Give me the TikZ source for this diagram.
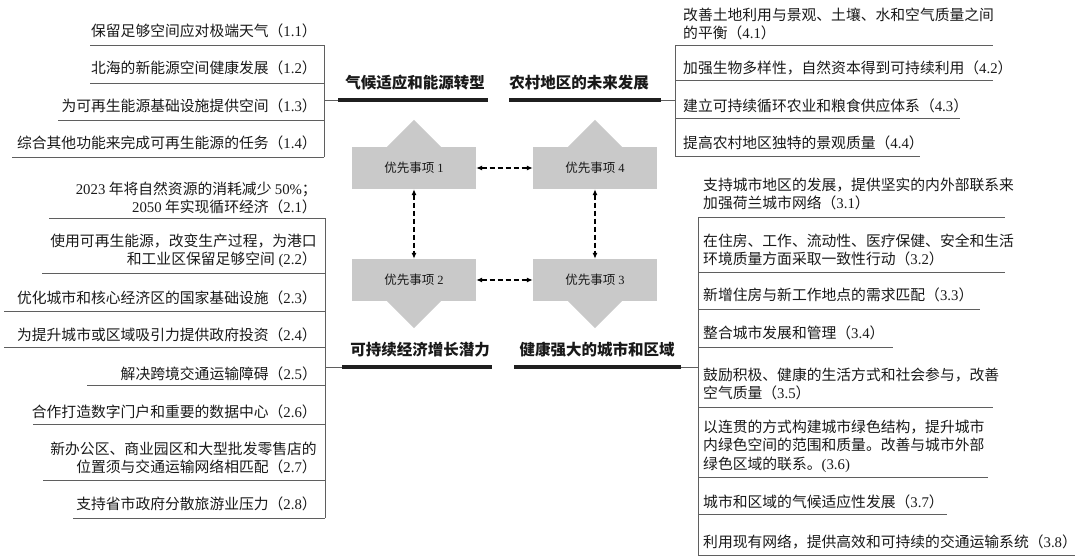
\documentclass[tikz,border=0pt]{standalone}
\usepackage{fontspec}
\setmainfont{Liberation Serif}
\newfontfamily\cjk{Noto Sans CJK SC}
\newfontfamily\latin{Liberation Serif}
\usetikzlibrary{arrows.meta,positioning}
\newcommand{\nr}[1]{{\latin #1}}
\definecolor{boxgray}{RGB}{201,201,201}
\definecolor{txtgray}{RGB}{25,25,25}
\definecolor{rulegray}{RGB}{95,95,95}
\tikzset{
  itemL/.style={anchor=east,align=right,inner sep=0pt,text=txtgray,
    font=\cjk\fontsize{14.8}{18.5}\selectfont},
  itemR/.style={anchor=west,align=left,inner sep=0pt,text=txtgray,
    font=\cjk\fontsize{14.8}{18.5}\selectfont},
  head/.style={inner sep=0pt,text=black!90,font=\cjk\bfseries\fontsize{15.5}{18}\selectfont},
  prio/.style={fill=boxgray,minimum width=124pt,minimum height=42pt,inner sep=0pt,
    text=txtgray,font=\cjk\fontsize{12.5}{15}\selectfont},
  rule/.style={draw=rulegray,line width=0.9pt},
  bar/.style={draw=black!88,line width=3.2pt},
  link/.style={dash pattern=on 5pt off 3pt,line width=1.1pt,
    {Latex[length=6pt,width=5pt]}-{Latex[length=6pt,width=5pt]}}
}
\begin{document}
\begin{tikzpicture}[x=1pt,y=-1pt]
\useasboundingbox (0,0) rectangle (1080,560);

% priorities
\node[prio] (p1) at (414,168) {优先事项 \nr{1}};
\node[prio] (p4) at (595,168) {优先事项 \nr{4}};
\node[prio] (p2) at (414,280) {优先事项 \nr{2}};
\node[prio] (p3) at (595,280) {优先事项 \nr{3}};
\fill[boxgray] ([xshift=-27pt]p1.north) -- ([xshift=27pt]p1.north) -- ([yshift=27pt]p1.north) -- cycle;
\fill[boxgray] ([xshift=-27pt]p4.north) -- ([xshift=27pt]p4.north) -- ([yshift=27pt]p4.north) -- cycle;
\fill[boxgray] ([xshift=-27pt]p2.south) -- ([xshift=27pt]p2.south) -- ([yshift=-27pt]p2.south) -- cycle;
\fill[boxgray] ([xshift=-27pt]p3.south) -- ([xshift=27pt]p3.south) -- ([yshift=-27pt]p3.south) -- cycle;
\draw[link] (p1) -- (p4);
\draw[link] (p2) -- (p3);
\draw[link] (p1) -- (p2);
\draw[link] (p4) -- (p3);

% headings
\node[head] (h1) at (415,83) {气候适应和能源转型};
\node[head] (h4) at (579,83) {农村地区的未来发展};
\node[head] (h2) at (420,350) {可持续经济增长潜力};
\node[head] (h3) at (597,350) {健康强大的城市和区域};
\coordinate (b1) at (338,100);
\coordinate (b4) at (661,100);
\coordinate (b2) at (342,367);
\coordinate (b3) at (681,367);
\draw[bar] (b1) -- ++(150,0);
\draw[bar] (b4) -- ++(-152,0);
\draw[bar] (b2) -- ++(150,0);
\draw[bar] (b3) -- ++(-167,0);

% trunks
\coordinate (t1) at (324,100);
\coordinate (t4) at (675,100);
\coordinate (t2) at (325,367);
\coordinate (t3) at (698,367);
\draw[rule] (t1) -- (b1);
\draw[rule] (b4) -- (t4);
\draw[rule] (t2) -- (b2);
\draw[rule] (b3) -- (t3);
\draw[rule] (324,45) -- (324,157);
\draw[rule] (675,45) -- (675,156);
\draw[rule] (325,218) -- (325,518);
\draw[rule] (698,217) -- (698,555);

% priority 1
\node[itemL] (i11) at (317,31) {保留足够空间应对极端天气（\nr{1.1}）};
\node[itemL] (i12) at (317,68) {北海的新能源空间健康发展（\nr{1.2}）};
\node[itemL] (i13) at (317,106) {为可再生能源基础设施提供空间（\nr{1.3}）};
\node[itemL] (i14) at (317,143) {综合其他功能来完成可再生能源的任务（\nr{1.4}）};
\draw[rule] (90,45) -- (324,45);
\draw[rule] (90,83) -- (324,83);
\draw[rule] (58,120) -- (324,120);
\draw[rule] (12,157) -- (324,157);

% priority 2
\node[itemL] (i21) at (317,198) {\nr{2023} 年将自然资源的消耗减少 \nr{50\%}；\\\nr{2050} 年实现循环经济（\nr{2.1}）};
\node[itemL] (i22) at (317,251) {使用可再生能源，改变生产过程，为港口\\和工业区保留足够空间\nr{ (2.2}）};
\node[itemL] (i23) at (317,298) {优化城市和核心经济区的国家基础设施（\nr{2.3}）};
\node[itemL] (i24) at (317,335) {为提升城市或区域吸引力提供政府投资（\nr{2.4}）};
\node[itemL] (i25) at (317,374) {解决跨境交通运输障碍（\nr{2.5}）};
\node[itemL] (i26) at (317,412) {合作打造数字门户和重要的数据中心（\nr{2.6}）};
\node[itemL] (i27) at (317,458) {新办公区、商业园区和大型批发零售店的\\位置须与交通运输网络相匹配（\nr{2.7}）};
\node[itemL] (i28) at (317,504) {支持省市政府分散旅游业压力（\nr{2.8}）};
\draw[rule] (49,218) -- (325,218);
\draw[rule] (42,273) -- (325,273);
\draw[rule] (4,311) -- (325,311);
\draw[rule] (4,347) -- (325,347);
\draw[rule] (87,385) -- (325,385);
\draw[rule] (33,424) -- (325,424);
\draw[rule] (43,480) -- (325,480);
\draw[rule] (73,518) -- (325,518);

% priority 4
\node[itemR] (i41) at (683,24) {改善土地利用与景观、土壤、水和空气质量之间\\的平衡（\nr{4.1}）};
\node[itemR] (i42) at (683,68) {加强生物多样性，自然资本得到可持续利用（\nr{4.2}）};
\node[itemR] (i43) at (683,106) {建立可持续循环农业和粮食供应体系（\nr{4.3}）};
\node[itemR] (i44) at (683,143) {提高农村地区独特的景观质量（\nr{4.4}）};
\draw[rule] (675,45) -- (993,45);
\draw[rule] (675,80) -- (993,80);
\draw[rule] (675,118) -- (960,118);
\draw[rule] (675,156) -- (920,156);

% priority 3
\node[itemR] (i31) at (703,194) {支持城市地区的发展，提供坚实的内外部联系来\\加强荷兰城市网络（\nr{3.1}）};
\node[itemR] (i32) at (703,250) {在住房、工作、流动性、医疗保健、安全和生活\\环境质量方面采取一致性行动（\nr{3.2}）};
\node[itemR] (i33) at (703,295) {新增住房与新工作地点的需求匹配（\nr{3.3}）};
\node[itemR] (i34) at (703,333) {整合城市发展和管理（\nr{3.4}）};
\node[itemR] (i35) at (703,384) {鼓励积极、健康的生活方式和社会参与，改善\\空气质量（\nr{3.5}）};
\node[itemR] (i36) at (703,446) {以连贯的方式构建城市绿色结构，提升城市\\内绿色空间的范围和质量。改善与城市外部\\绿色区域的联系。\nr{(3.6)}};
\node[itemR] (i37) at (703,502) {城市和区域的气候适应性发展（\nr{3.7}）};
\node[itemR] (i38) at (703,542) {利用现有网络，提供高效和可持续的交通运输系统（\nr{3.8}）};
\draw[rule] (698,217) -- (1005,217);
\draw[rule] (698,272) -- (1005,272);
\draw[rule] (698,309) -- (980,309);
\draw[rule] (698,347) -- (893,347);
\draw[rule] (698,407) -- (993,407);
\draw[rule] (698,477) -- (988,477);
\draw[rule] (698,514) -- (947,514);
\draw[rule] (698,555) -- (1075,555);
\end{tikzpicture}
\end{document}
